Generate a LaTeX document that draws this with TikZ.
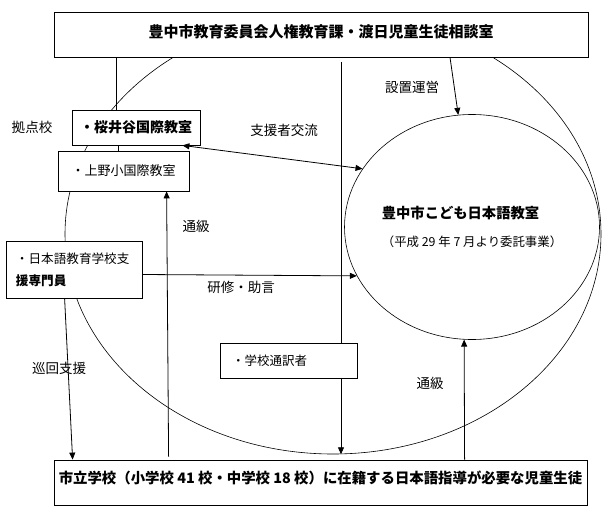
\documentclass[tikz,border=0pt]{standalone}
\usepackage{fontspec}
\setmainfont{Noto Sans CJK JP}
\usetikzlibrary{shapes.geometric,arrows.meta}
\tikzset{
  box/.style={draw, fill=white, inner sep=0pt, line width=0.8pt},
  lbl/.style={font=\fontsize{13.5}{16}\selectfont, inner sep=0pt},
  arr/.style={line width=0.8pt, -{Triangle[length=7pt,width=6pt]}},
  arrboth/.style={line width=0.8pt, {Triangle[length=7pt,width=6pt]}-{Triangle[length=7pt,width=6pt]}},
}
\begin{document}
\begin{tikzpicture}[x=1pt,y=-1pt]
\useasboundingbox (0,0) rectangle (612,524);
\node[draw, ellipse, inner sep=0pt, line width=0.6pt, minimum width=536pt, minimum height=440pt] (kuiki) at (333,234) {};
\coordinate (tsuyakuTop) at (341,62);
\draw[arr] (tsuyakuTop) -- (tsuyakuTop |- kuiki.south);

\node[box, minimum width=534pt, minimum height=45pt, font=\fontsize{15}{18}\selectfont\bfseries] (honbu) at (321,34.5) {\raisebox{2.5pt}[\height][\depth]{豊中市教育委員会人権教育課・渡日児童生徒相談室}};
\node[box, minimum width=128pt, minimum height=35pt, font=\fontsize{14}{17}\selectfont\bfseries] (sakurai) at (136,127.5) {・桜井谷国際教室};
\node[box, minimum width=131pt, minimum height=40pt, font=\fontsize{13}{16}\selectfont] (ueno) at (123.5,171) {・上野小国際教室};
\node[box, minimum width=136pt, minimum height=57pt, text width=116pt, align=left, font=\fontsize{12.6}{22}\selectfont] (nihongo) at (74,269.5) {・日本語教育学校支\\\textbf{援専門員}};
\node[box, minimum width=137pt, minimum height=35pt, text width=113pt, align=left, font=\fontsize{12.5}{15}\selectfont] (tsuyaku) at (288.5,360.5) {・学校通訳者};
\node[box, minimum width=533pt, minimum height=45pt, font=\fontsize{14.4}{17}\selectfont\bfseries] (shiritsu) at (320.5,482.5) {\raisebox{4.5pt}[\height][\depth]{市立学校（小学校 41 校・中学校 18 校）に在籍する日本語指導が必要な児童生徒}};
\node[draw, ellipse, inner sep=0pt, line width=0.6pt, minimum width=243pt, minimum height=225pt, align=left, font=\fontsize{12.4}{28}\selectfont] (kyoshitsu) at (472,227) {{\fontsize{14.3}{28}\selectfont\bfseries 豊中市こども日本語教室}\\（平成 29 年 7 月より委託事業）};

\node[lbl] (kyoten) at (32,127) {拠点校};
\node[lbl] (koryu) at (284,130) {支援者交流};
\node[lbl] (unei) at (412,87) {設置運営};
\node[lbl] (tsukyuL) at (196,226) {通級};
\node[lbl] (kenshu) at (241,287) {研修・助言};
\node[lbl] (junkai) at (59,368) {巡回支援};
\node[lbl] (tsukyuR) at (430,383) {通級};

\draw[line width=0.8pt] ([xshift=-20pt]sakurai.north) -- ([xshift=-20pt]sakurai.north |- honbu.south);
\draw[line width=0.8pt] ([xshift=-18pt]sakurai.south) -- ([xshift=-18pt]sakurai.south |- ueno.north);
\draw[arr] ([xshift=129pt]honbu.south) -- (kyoshitsu.97);
\draw[arrboth] ([xshift=-18pt]sakurai.south east) -- (kyoshitsu.152);
\draw[arr] ([xshift=115pt,yshift=3pt]shiritsu.north west) -- ([xshift=109pt]ueno.south west);
\draw[arr] ([yshift=-5pt]nihongo.east) -- (kyoshitsu.203);
\draw[arr] ([xshift=59pt]nihongo.south west) -- ([xshift=19pt]shiritsu.north west);
\draw[arr] ([xshift=411pt]shiritsu.north west) -- (kyoshitsu.266);
\end{tikzpicture}
\end{document}
